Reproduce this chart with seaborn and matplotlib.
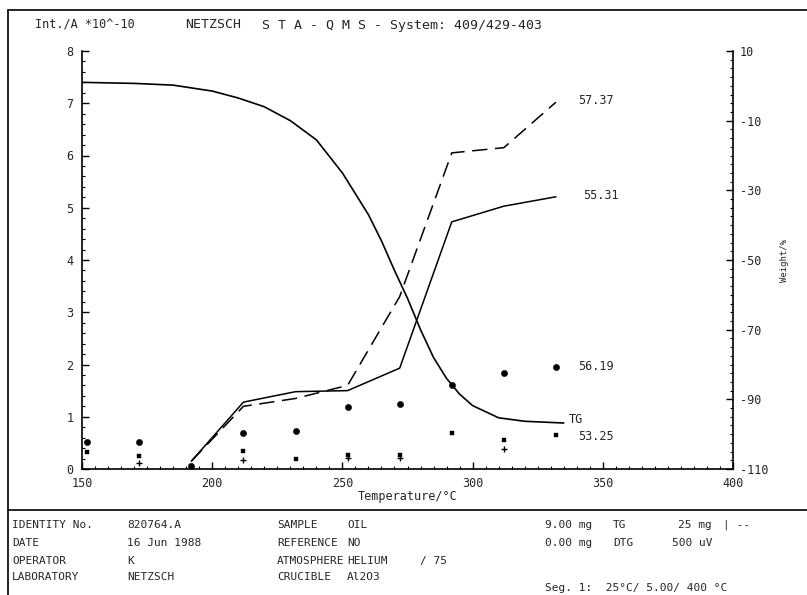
import numpy as np
import pandas as pd
import matplotlib
matplotlib.use("Agg")
import matplotlib.pyplot as plt
from matplotlib.lines import Line2D
from matplotlib.ticker import MultipleLocator
import seaborn as sns

# TG curve (weight %, right axis)
tg_temp = [150, 170, 185, 200, 210, 220, 230, 240, 250, 255, 260, 265,
           270, 275, 280, 285, 290, 295, 300, 310, 320, 335]
tg_weight = [1.0, 0.7, 0.2, -1.5, -3.5, -6.0, -10.0, -15.5, -25.0, -31.0, -37.0, -44.5,
             -53.0, -61.0, -70.0, -78.0, -84.0, -88.5, -91.8, -95.3, -96.3, -96.8]

# MS ion currents (Int./A *10^-10, left axis)
ms_temp = [152, 172, 192, 212, 232, 252, 272, 292, 312, 332]
line_temp = [192, 212, 232, 252, 272, 292, 312, 332]
ion_57 = [0.15, 1.20, 1.35, 1.60, 3.30, 6.05, 6.15, 7.02]
ion_55 = [0.15, 1.28, 1.48, 1.50, 1.93, 4.73, 5.03, 5.21]
ion_56 = [0.52, 0.52, 0.05, 0.69, 0.72, 1.19, 1.25, 1.61, 1.83, 1.96]
ion_53 = [0.33, 0.24, 0.05, 0.35, 0.20, 0.27, 0.27, 0.68, 0.55, 0.66]
ion_low = [np.nan, 0.11, np.nan, 0.17, np.nan, 0.22, 0.22, np.nan, 0.38, np.nan]

x_ticks = [150, 200, 250, 300, 350, 400]
left_ticks = [0, 1, 2, 3, 4, 5, 6, 7, 8]
right_ticks = [-110, -90, -70, -50, -30, -10, 10]

W, H = 807, 595
MONO = "DejaVu Sans Mono"


def px(x, y):
    """pixel position -> figure fraction"""
    return x / W, 1 - y / H


sns.set_style("white")
plt.rcParams["font.family"] = [MONO]

fig = plt.figure(figsize=(W / 100, H / 100), dpi=100)
ax = fig.add_axes([82 / W, 1 - 469 / H, 651 / W, 418 / H])
ax2 = ax.twinx()

tg = pd.DataFrame({"T": tg_temp, "W": tg_weight})
lines = pd.DataFrame({"T": line_temp, "m57": ion_57, "m55": ion_55})
pts = pd.DataFrame({"T": ms_temp, "m56": ion_56, "m53": ion_53, "low": ion_low})

sns.lineplot(data=lines, x="T", y="m57", ax=ax, color="black", lw=1.1,
             dashes=False, linestyle=(0, (10, 5)))
sns.lineplot(data=lines, x="T", y="m55", ax=ax, color="black", lw=1.1)
sns.scatterplot(data=pts, x="T", y="m56", ax=ax, color="black", s=20,
                marker="o", edgecolor="black")
sns.scatterplot(data=pts, x="T", y="m53", ax=ax, color="black", s=12,
                marker="s", edgecolor="black")
sns.scatterplot(data=pts, x="T", y="low", ax=ax, color="black", s=18,
                marker="+", linewidth=1.0)
sns.lineplot(data=tg, x="T", y="W", ax=ax2, color="black", lw=1.2)

ax.set_xlim(150, 400)
ax.set_ylim(0, 8)
ax2.set_ylim(-110, 10)

ax.set_xticks(x_ticks)
ax.set_xticklabels([str(v) for v in x_ticks])
ax.set_yticks(left_ticks)
ax.set_yticklabels([str(v) for v in left_ticks])
ax2.set_yticks(right_ticks)
ax2.set_yticklabels([str(v) for v in right_ticks])
ax.xaxis.set_minor_locator(MultipleLocator(5))
ax.yaxis.set_minor_locator(MultipleLocator(0.2))
ax2.yaxis.set_minor_locator(MultipleLocator(2.5))

ax.set_xlabel("Temperature/°C", fontsize=8.5, labelpad=0)
ax.set_ylabel("")
ax2.set_ylabel("Weight/%", fontsize=6.5, labelpad=8)

for a in (ax, ax2):
    a.tick_params(which="major", direction="in", length=5, width=1.0,
                  labelsize=8.5, pad=3, color="black")
    a.tick_params(which="minor", direction="in", length=2.5, width=0.8,
                  color="black")
    for s in a.spines.values():
        s.set_color("black")
        s.set_linewidth(1.2)
    a.spines["top"].set_visible(False)
ax.tick_params(axis="y", which="both", left=True, right=False, pad=6)
ax.tick_params(axis="x", which="both", bottom=True, top=False, pad=6)
ax2.tick_params(axis="y", which="both", right=True, left=False, pad=5)
ax.spines["right"].set_visible(False)
ax2.spines["left"].set_visible(False)
ax2.spines["bottom"].set_visible(False)

# series labels at the curve ends
ax.text(340.5, 7.05, "57.37", fontsize=8.5, va="center")
ax.text(342.5, 5.24, "55.31", fontsize=8.5, va="center")
ax.text(340.5, 1.96, "56.19", fontsize=8.5, va="center")
ax.text(340.5, 0.63, "53.25", fontsize=8.5, va="center")
ax2.text(336.8, -95.8, "TG", fontsize=8.5, va="center")

# title line
fig.text(*px(35, 25), "Int./A *10^-10", fontsize=8.5, va="center")
fig.text(*px(185, 25), "NETZSCH", fontsize=9.5, va="center")
fig.text(*px(262, 25), "S T A - Q M S - System: 409/429-403", fontsize=9.5,
         va="center")

# frame and separator
fig.add_artist(Line2D([8 / W, 1], [1 - 10 / H] * 2, color="black", lw=1.2))
fig.add_artist(Line2D([8 / W] * 2, [0, 1 - 10 / H], color="black", lw=1.2))
fig.add_artist(Line2D([8 / W, 1], [1 - 510 / H] * 2, color="black", lw=1.2))

# info block
info_rows = [
    ["IDENTITY No.", "820764.A", "SAMPLE", "OIL"],
    ["DATE", "16 Jun 1988", "REFERENCE", "NO"],
    ["OPERATOR", "K", "ATMOSPHERE", "HELIUM"],
    ["LABORATORY", "NETZSCH", "CRUCIBLE", "Al2O3"],
]
row_y = [525, 543, 561, 577]
col_x = [12, 127, 277, 347]
for yy, row in zip(row_y, info_rows):
    for xx, txt in zip(col_x, row):
        fig.text(*px(xx, yy), txt, fontsize=8, va="center")

fig.text(*px(420, 561), "/ 75", fontsize=8, va="center")
fig.text(*px(545, 525), "9.00 mg", fontsize=8, va="center")
fig.text(*px(545, 543), "0.00 mg", fontsize=8, va="center")
fig.text(*px(613, 525), "TG", fontsize=8, va="center")
fig.text(*px(613, 543), "DTG", fontsize=8, va="center")
fig.text(*px(712, 525), "25 mg", fontsize=8, va="center", ha="right")
fig.text(*px(712, 543), "500 uV", fontsize=8, va="center", ha="right")
fig.text(*px(723, 525), "| --", fontsize=8, va="center")
fig.text(*px(545, 588), "Seg. 1:  25°C/ 5.00/ 400 °C", fontsize=8, va="center")

fig.savefig("out.png", dpi=100)
